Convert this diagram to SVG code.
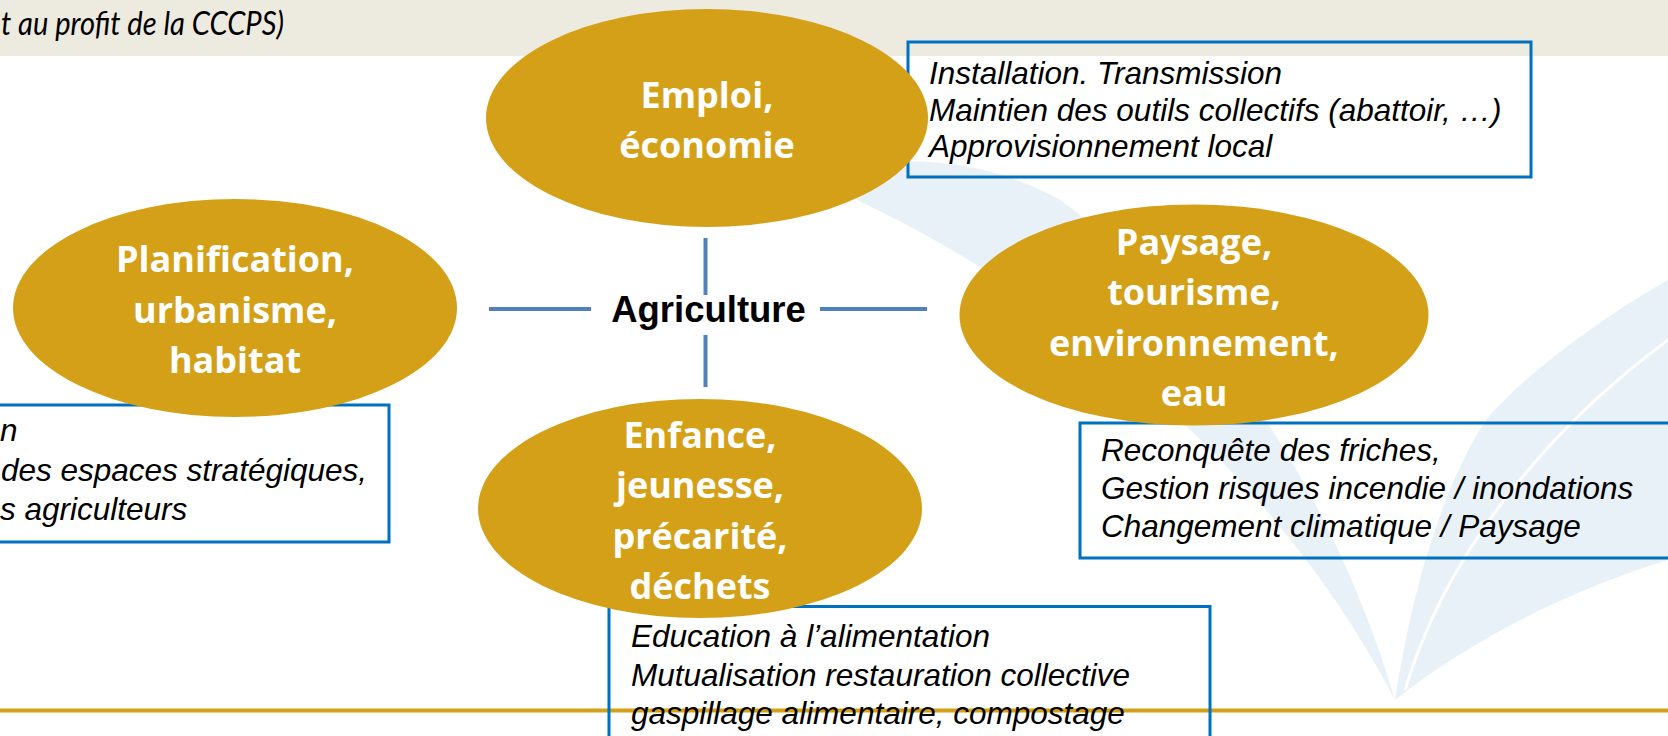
<svg xmlns="http://www.w3.org/2000/svg" width="1668" height="736" viewBox="0 0 1668 736">
<defs>
<style>
.band{fill:#EDEAE0}
.wm{fill:#E9F1F8}
.wml{fill:none;stroke:#FFFFFF;stroke-width:3}
.oval{fill:#D4A017}
.otxt{font-family:"Open Sans","Liberation Sans",sans-serif;font-weight:bold;font-size:36px;fill:#FFFFFF;text-anchor:middle}
.box{fill:none;stroke:#0070C0;stroke-width:3}
.btxt{font-family:"Liberation Sans",Arial,sans-serif;font-style:italic;font-size:31.5px;fill:#000000}
.conn{stroke:#4F81BD;stroke-width:4;fill:none}
.hdr{font-family:Lato,"Open Sans",sans-serif;font-style:italic;font-size:32px;fill:#000000}
</style>
</defs>
<rect width="1668" height="736" fill="#FFFFFF"/>
<rect class="band" x="0" y="0" width="1668" height="56"/>
<text class="hdr" x="1" y="35" textLength="283" lengthAdjust="spacingAndGlyphs">t au profit de la CCCPS)</text>

<g id="watermark">
<path class="wm" d="M800,175 C1010,260 1260,440 1395,700 C1330,480 1200,300 1060,200 C990,160 900,150 800,175 Z"/>
<path class="wm" d="M1668,280 C1580,330 1510,390 1486,420 C1440,490 1410,600 1395,700 C1470,640 1570,590 1668,560 Z"/>
<path class="wml" d="M830,205 C1020,290 1250,460 1385,690"/>
<path class="wml" d="M1668,340 C1560,420 1450,540 1405,690"/>
</g>

<line x1="0" y1="710.5" x2="1668" y2="710.5" stroke="#D4A017" stroke-width="4"/>

<g id="connectors">
<line class="conn" x1="489" y1="309" x2="591" y2="309"/>
<line class="conn" x1="820" y1="309" x2="927" y2="309"/>
<line class="conn" x1="705.5" y1="238" x2="705.5" y2="295"/>
<line class="conn" x1="705.5" y1="335" x2="705.5" y2="387"/>
</g>

<g id="center">
<text x="708.5" y="321.5" font-family="'Liberation Sans',Arial,sans-serif" font-weight="bold" font-size="36.5" text-anchor="middle" fill="#000000">Agriculture</text>
</g>

<g id="box-emploi">
<rect class="box" x="908" y="42" width="623" height="135"/>
<text class="btxt" x="929" y="84">Installation. Transmission</text>
<text class="btxt" x="929" y="120.5">Maintien des outils collectifs (abattoir, …)</text>
<text class="btxt" x="929" y="157">Approvisionnement local</text>
</g>

<g id="box-planification">
<rect class="box" x="-60" y="405" width="449" height="137"/>
<text class="btxt" x="0" y="441">n</text>
<text class="btxt" x="1" y="481">des espaces stratégiques,</text>
<text class="btxt" x="0" y="520">s agriculteurs</text>
</g>

<g id="box-paysage">
<rect class="box" x="1080" y="423" width="640" height="135"/>
<text class="btxt" x="1101" y="461">Reconquête des friches,</text>
<text class="btxt" x="1101" y="499">Gestion risques incendie / inondations</text>
<text class="btxt" x="1101" y="537">Changement climatique / Paysage</text>
</g>

<g id="box-enfance">
<rect class="box" x="609" y="606.5" width="601" height="160"/>
<text class="btxt" x="631" y="647">Education à l’alimentation</text>
<text class="btxt" x="631" y="686">Mutualisation restauration collective</text>
<text class="btxt" x="631" y="724">gaspillage alimentaire, compostage</text>
</g>

<g id="node-emploi">
<ellipse class="oval" cx="707" cy="118" rx="221" ry="109"/>
<text class="otxt" x="707" y="108">Emploi,</text>
<text class="otxt" x="707" y="158">économie</text>
</g>

<g id="node-planification">
<ellipse class="oval" cx="235" cy="308" rx="222" ry="109"/>
<text class="otxt" x="235" y="272">Planification,</text>
<text class="otxt" x="235" y="323">urbanisme,</text>
<text class="otxt" x="235" y="373">habitat</text>
</g>

<g id="node-paysage">
<ellipse class="oval" cx="1194" cy="315" rx="234.5" ry="110.5"/>
<text class="otxt" x="1194" y="255">Paysage,</text>
<text class="otxt" x="1194" y="305">tourisme,</text>
<text class="otxt" x="1194" y="355.5">environnement,</text>
<text class="otxt" x="1194" y="406">eau</text>
</g>

<g id="node-enfance">
<ellipse class="oval" cx="700" cy="508.5" rx="222" ry="109.5"/>
<text class="otxt" x="700" y="447.5">Enfance,</text>
<text class="otxt" x="700" y="498">jeunesse,</text>
<text class="otxt" x="700" y="548.5">précarité,</text>
<text class="otxt" x="700" y="599">déchets</text>
</g>
</svg>
